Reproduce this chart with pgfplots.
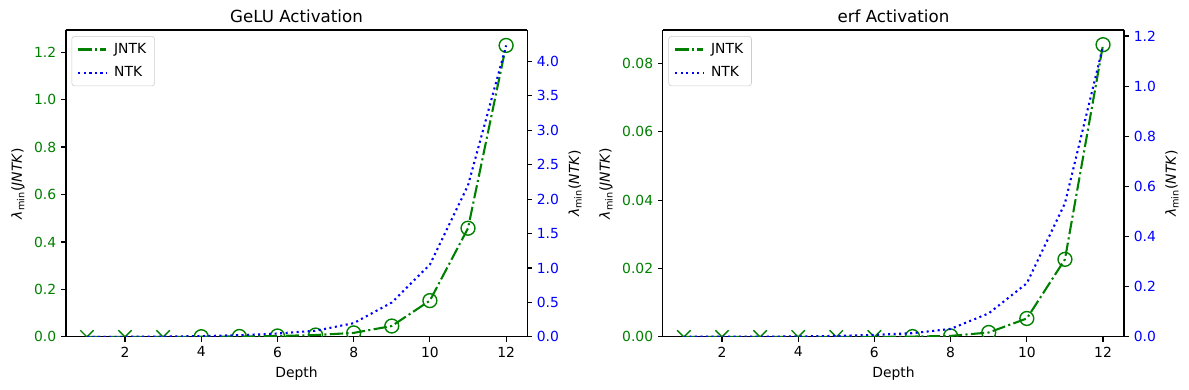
\documentclass[border=0pt]{standalone}
\usepackage{fontspec}
\setmainfont{DejaVu Sans}
\usepackage{pgfplots}
\pgfplotsset{compat=1.18}

\definecolor{mplgreen}{HTML}{008000}
\definecolor{mplblue}{HTML}{0000FF}

\pgfplotsset{
  panel/.style={
    scale only axis, width=332pt, height=221pt,
    xmin=0.45, xmax=12.55, ymin=0,
    tick align=outside, major tick length=3.5pt,
    axis line style={line width=0.8pt}, every tick/.style={black, line width=0.8pt},
    /pgf/number format/assume math mode=true,
    tick label style={font=\fontsize{10}{12}\selectfont},
    label style={font=\fontsize{10}{12}\selectfont},
    title style={font=\fontsize{12}{14}\selectfont, yshift=-4.5pt},
  },
  leftax/.style={panel,
    axis y line*=left, axis x line*=box, xtick pos=bottom, ytick pos=left,
    xtick={2,4,6,8,10,12}, xlabel={Depth},
    yticklabel style={text=mplgreen},
    ylabel={\textit{λ}\textsubscript{min}(\textit{JNTK})},
    clip marker paths=true,
  },
  rightax/.style={panel,
    axis y line*=right, axis x line=none, ytick pos=right,
    yticklabel style={text=mplblue},
    ylabel={\textit{λ}\textsubscript{min}(\textit{NTK})},
    legend style={at={(0.012,0.98)}, anchor=north west, draw=black!20, rounded corners=2pt,
      font=\fontsize{10}{12}\selectfont, inner xsep=4pt, inner ysep=3pt,
      row sep=4pt, column sep=3pt},
    legend cell align=left,
    legend image code/.code={\draw[#1] (0pt,0pt) -- (20pt,0pt);},
  },
  jntk/.style={mplgreen, line width=1.5pt, dash pattern=on 9.6pt off 2.4pt on 1.5pt off 2.4pt, mark=none},
  ntk/.style={mplblue, line width=1.5pt, dash pattern=on 1.5pt off 2.475pt, mark=none},
  xmk/.style={only marks, mark=x, mark size=6.8pt, mplgreen, line width=1pt},
  omk/.style={only marks, mark=o, mark size=5pt, mplgreen, line width=1pt},
}

\begin{document}
\begin{tikzpicture}
\useasboundingbox (-47.5pt,-38.2pt) rectangle (808.6pt,242.6pt);

% ---- GeLU, left scale
\begin{axis}[leftax, at={(0pt,0pt)}, ymax=1.293, title={GeLU Activation},
  ytick={0,0.2,...,1.2},
  yticklabel style={/pgf/number format/.cd, fixed, fixed zerofill, precision=1}]
\addplot[jntk] coordinates {(1,0) (2,0) (3,0) (4,0.001) (5,0.002) (6,0.004) (7,0.008) (8,0.017) (9,0.046) (10,0.153) (11,0.458) (12,1.228)};
\addplot[xmk] coordinates {(1,0) (2,0) (3,0)};
\addplot[omk] coordinates {(4,0.001) (5,0.002) (6,0.004) (7,0.008) (8,0.017) (9,0.046) (10,0.153) (11,0.458) (12,1.228)};
\end{axis}
% ---- GeLU, right scale
\begin{axis}[rightax, at={(0pt,0pt)}, ymax=4.456,
  ytick={0,0.5,...,4.0},
  yticklabel style={/pgf/number format/.cd, fixed, fixed zerofill, precision=1}]
\addlegendimage{jntk}
\addlegendentry{JNTK}
\addplot[ntk] coordinates {(1,0.001) (2,0.002) (3,0.005) (4,0.012) (5,0.025) (6,0.05) (7,0.09) (8,0.2) (9,0.5) (10,1.05) (11,2.2) (12,4.23)};
\addlegendentry{NTK}
\end{axis}

% ---- erf, left scale
\begin{axis}[leftax, at={(429.8pt,0pt)}, ymax=0.0898, title={erf Activation},
  ytick={0,0.02,...,0.081},
  yticklabel style={/pgf/number format/.cd, fixed, fixed zerofill, precision=2},
  scaled y ticks=false]
\addplot[jntk] coordinates {(1,0) (2,0) (3,0) (4,0) (5,0) (6,0) (7,0.0001) (8,0.0003) (9,0.0013) (10,0.0054) (11,0.0227) (12,0.0855)};
\addplot[xmk] coordinates {(1,0) (2,0) (3,0) (4,0) (5,0) (6,0)};
\addplot[omk] coordinates {(7,0.0001) (8,0.0003) (9,0.0013) (10,0.0054) (11,0.0227) (12,0.0855)};
\end{axis}
% ---- erf, right scale
\begin{axis}[rightax, at={(429.8pt,0pt)}, ymax=1.224,
  ytick={0,0.2,...,1.2},
  yticklabel style={/pgf/number format/.cd, fixed, fixed zerofill, precision=1}]
\addlegendimage{jntk}
\addlegendentry{JNTK}
\addplot[ntk] coordinates {(1,0.0005) (2,0.001) (3,0.001) (4,0.002) (5,0.004) (6,0.008) (7,0.015) (8,0.032) (9,0.094) (10,0.214) (11,0.533) (12,1.16)};
\addlegendentry{NTK}
\end{axis}
\end{tikzpicture}
\end{document}
